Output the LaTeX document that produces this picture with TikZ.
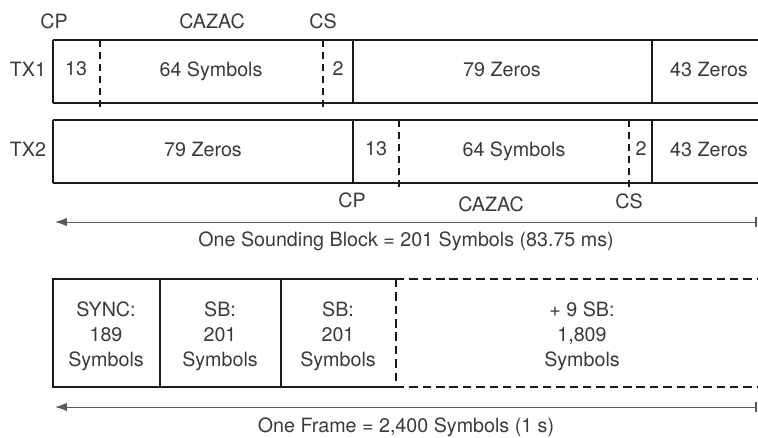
\documentclass[tikz,border=0pt]{standalone}
\usepackage{fontspec}
\setmainfont{TeX Gyre Heros}
\usepackage{xcolor}
\usetikzlibrary{arrows.meta, positioning}
\definecolor{fieldtext}{HTML}{3A3A3A}
\definecolor{fieldline}{HTML}{1A1A1A}
\definecolor{spangray}{HTML}{5A5A5A}

\begin{document}
\begin{tikzpicture}[x=0.025cm, y=-0.025cm,
    every node/.style={font=\fontsize{14}{18}\selectfont, text=fieldtext, inner sep=0pt, text depth=0pt},
    slotline/.style={line width=1.5pt, fieldline},
    cutline/.style={line width=0.8pt, fieldline, dash pattern=on 5pt off 3.5pt},
    moreline/.style={line width=1.5pt, fieldline, dash pattern=on 6pt off 3.5pt},
    spanarrow/.style={line width=0.7pt, spangray, {Latex[length=8.5pt, width=6pt]}-{Bar[width=7pt, line width=1.5pt]}}]
    \useasboundingbox (0,0) rectangle (758,437);
    \clip (0,0) rectangle (758,437);

    % TX1 row
    \draw[slotline] (53,40) -- (800,40) (53,103) -- (800,103) (53,40) -- (53,103);
    \draw[slotline] (353,40) -- (353,103) (652,40) -- (652,103);
    \draw[cutline] (100,40) -- (100,108) (323,40) -- (323,108);
    \node (tx1) at (28,69) {TX1};
    \node (tx1cp) at (76,69) {13};
    \node (tx1seq) at (211,69) {64 Symbols};
    \node (tx1cs) at (338,69) {2};
    \node (tx1gap) at (502,69) {79 Zeros};
    \node (tx1tail) at (709,69) {43 Zeros};
    \node (cpa) at (54,21) {CP};
    \node (cazaca) at (212,21) {CAZAC};
    \node (csa) at (323,21) {CS};

    % TX2 row
    \draw[slotline] (53,120) -- (800,120) (53,183) -- (800,183) (53,120) -- (53,183);
    \draw[slotline] (353,120) -- (353,183) (652,120) -- (652,183);
    \draw[cutline] (399,120) -- (399,188) (629,120) -- (629,188);
    \node (tx2) at (28,149) {TX2};
    \node (tx2gap) at (203,149) {79 Zeros};
    \node (tx2cp) at (376,149) {13};
    \node (tx2seq) at (514,149) {64 Symbols};
    \node (tx2cs) at (641,149) {2};
    \node (tx2tail) at (709,149) {43 Zeros};
    \node (cpb) at (352,200) {CP};
    \node (cazacb) at (491,204) {CAZAC};
    \node (csb) at (629,201) {CS};

    % sounding block span
    \coordinate (blockL) at (55,222);
    \coordinate (blockR) at (757,222);
    \draw[spanarrow] (blockL) -- (blockR);
    \node (blocklabel) at (406,239) {One Sounding Block = 201 Symbols (83.75 ms)};

    % frame
    \draw[slotline] (396,279) -- (53,279) -- (53,387) -- (396,387);
    \draw[slotline] (160,279) -- (160,387) (281,279) -- (281,387);
    \draw[moreline] (396,279) -- (800,279) (396,387) -- (800,387) (396,279) -- (396,387);
    \node[align=center] (sync) at (106,334) {SYNC:\\189\\Symbols};
    \node[align=center] (sbone) at (220,334) {SB:\\201\\Symbols};
    \node[align=center] (sbtwo) at (338,334) {SB:\\201\\Symbols};
    \node[align=center] (sbrest) at (582,334) {+ 9 SB:\\1,809\\Symbols};

    % frame span
    \coordinate (frameL) at (55,407);
    \coordinate (frameR) at (757,407);
    \draw[spanarrow] (frameL) -- (frameR);
    \node (framelabel) at (406,425) {One Frame = 2,400 Symbols (1 s)};
\end{tikzpicture}
\end{document}
